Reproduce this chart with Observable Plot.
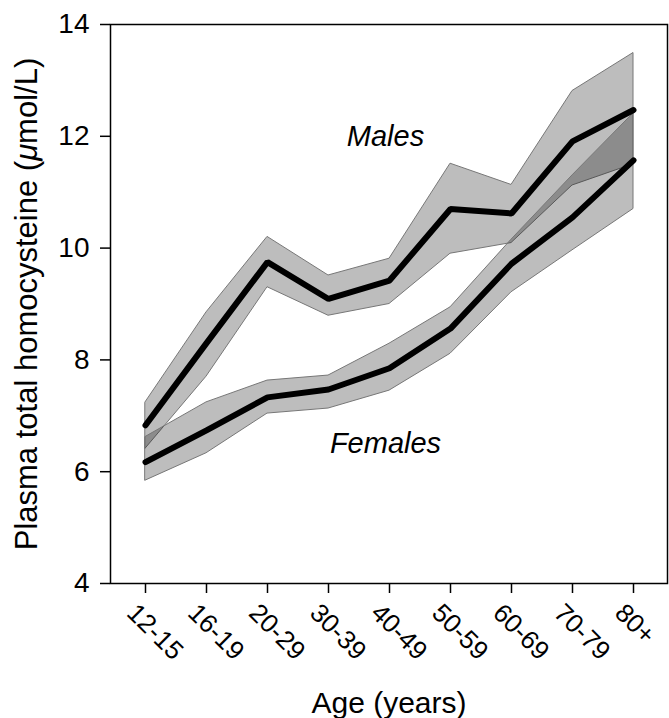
<!DOCTYPE html>
<html>
<head>
<meta charset="utf-8">
<script src="https://cdn.jsdelivr.net/npm/d3@7"></script>
<script src="https://cdn.jsdelivr.net/npm/@observablehq/plot@0.6"></script>
<style>
  html, body { margin: 0; padding: 0; background: #fff; }
  #chart svg { display: block; }
</style>
</head>
<body>
<div id="chart"></div>
<script>
// Age groups (x categories)
const ages = ["12-15", "16-19", "20-29", "30-39", "40-49", "50-59", "60-69", "70-79", "80+"];

// Males: mean and confidence band (µmol/L)
const maleMean  = [6.83, 8.30, 9.75, 9.09, 9.42, 10.70, 10.62, 11.91, 12.47];
const maleLower = [6.41, 7.70, 9.30, 8.79, 9.00, 9.90, 10.09, 11.12, 11.50];
const maleUpper = [7.24, 8.85, 10.20, 9.51, 9.81, 11.51, 11.13, 12.81, 13.49];

// Females: mean and confidence band (µmol/L)
const femaleMean  = [6.17, 6.74, 7.33, 7.47, 7.85, 8.56, 9.72, 10.55, 11.57];
const femaleLower = [5.84, 6.33, 7.04, 7.13, 7.45, 8.11, 9.21, 9.96, 10.70];
const femaleUpper = [6.62, 7.24, 7.63, 7.72, 8.29, 8.94, 10.15, 11.30, 12.41];

// Y ticks
const yTicks = [4, 6, 8, 10, 12, 14];

// In-plot series labels
const seriesLabels = ["Males", "Females"];
const seriesLabelAge = ["40-49", "40-49"];
const seriesLabelValue = [12.0, 6.5];

const males = ages.map((a, i) => ({age: a, mean: maleMean[i], lo: maleLower[i], hi: maleUpper[i]}));
const females = ages.map((a, i) => ({age: a, mean: femaleMean[i], lo: femaleLower[i], hi: femaleUpper[i]}));
const labels = seriesLabels.map((t, i) => ({text: t, age: seriesLabelAge[i], value: seriesLabelValue[i]}));

const font = "'Liberation Sans', Arial, Helvetica, sans-serif";

const chart = Plot.plot({
  width: 669,
  height: 718,
  marginLeft: 110,
  marginRight: 2,
  marginTop: 24,
  marginBottom: 135,
  style: {fontFamily: font, fontSize: "26px", color: "#000", background: "#fff"},
  x: {type: "point", domain: ages, padding: 0.5},
  y: {domain: [4, 14]},
  marks: [
    Plot.areaY(males, {x: "age", y1: "lo", y2: "hi", fill: "#000", fillOpacity: 0.26, stroke: "#777", strokeWidth: 1, curve: "linear"}),
    Plot.areaY(females, {x: "age", y1: "lo", y2: "hi", fill: "#000", fillOpacity: 0.26, stroke: "#777", strokeWidth: 1, curve: "linear"}),
    Plot.lineY(males, {x: "age", y: "mean", stroke: "#000", strokeWidth: 6, strokeLinejoin: "miter"}),
    Plot.lineY(females, {x: "age", y: "mean", stroke: "#000", strokeWidth: 6, strokeLinejoin: "miter"}),
    Plot.text(labels, {x: "age", y: "value", text: "text", dx: -4, fontStyle: "italic", fontSize: 29, fill: "#000"}),
    Plot.frame({stroke: "#000", strokeWidth: 1.5}),
    Plot.axisY({
      ticks: yTicks, tickSize: 10, tickPadding: 11, fontSize: 28, strokeWidth: 1.5,
      label: "Plasma total homocysteine (μmol/L)", labelAnchor: "center", labelArrow: "none",
      labelOffset: 96
    }),
    Plot.axisX({
      tickSize: 10, tickPadding: 6, tickRotate: 45, fontSize: 26, strokeWidth: 1.5,
      label: "Age (years)", labelAnchor: "center", labelArrow: "none", labelOffset: 129
    })
  ]
});

document.getElementById("chart").appendChild(chart);

// Styling tweaks: shift rotated tick labels, larger axis labels, italic µ
const svg = d3.select(chart);
svg.selectAll('g[aria-label="x-axis tick label"]').each(function() {
  const t = this.getAttribute("transform") || "";
  this.setAttribute("transform", ("translate(-14,9) " + t).trim());
});
svg.selectAll('g[aria-label="x-axis label"] text').attr("font-size", 30);
const yl = svg.select('g[aria-label="y-axis label"] text');
yl.attr("font-size", 31);
yl.text(null);
yl.append("tspan").text("Plasma total homocysteine (");
yl.append("tspan").attr("font-style", "italic").text("μ");
yl.append("tspan").text("mol/L)");
</script>
</body>
</html>
